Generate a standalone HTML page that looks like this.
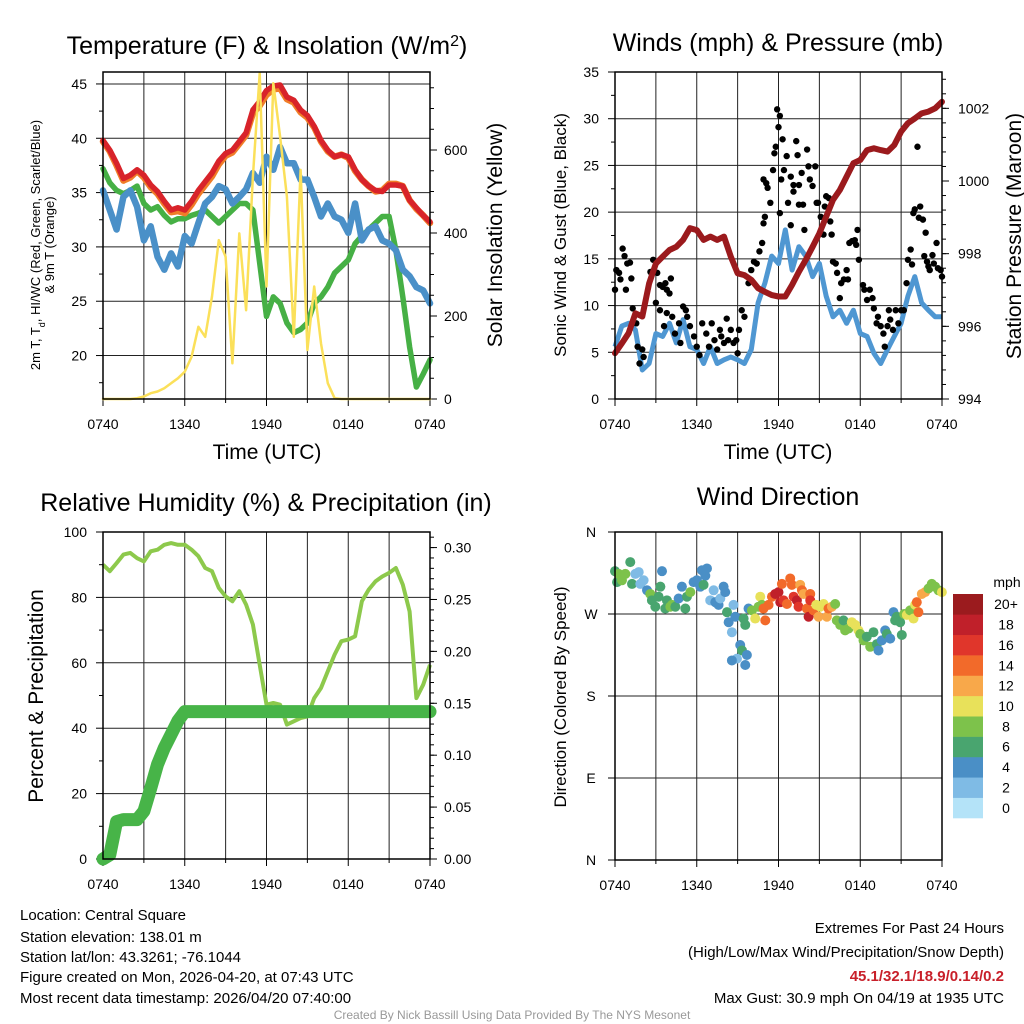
<!DOCTYPE html>
<html><head><meta charset="utf-8">
<style>
html,body{margin:0;padding:0;background:#fff;}
svg{display:block;font-family:"Liberation Sans",Arial,sans-serif;}
</style></head>
<body>
<svg id="chart" width="1024" height="1024" viewBox="0 0 1024 1024" xmlns="http://www.w3.org/2000/svg">
<rect width="1024" height="1024" fill="#fff"/>
<!-- titles -->
<text x="267" y="54" font-size="25" text-anchor="middle">Temperature (F) &amp; Insolation (W/m<tspan baseline-shift="super" font-size="16">2</tspan>)</text>
<text x="778" y="51" font-size="25" text-anchor="middle">Winds (mph) &amp; Pressure (mb)</text>
<text x="266" y="511" font-size="25" text-anchor="middle">Relative Humidity (%) &amp; Precipitation (in)</text>
<text x="778" y="505" font-size="25" text-anchor="middle">Wind Direction</text>
<!-- axis titles -->
<text x="267" y="459" font-size="21" text-anchor="middle">Time (UTC)</text>
<text x="778" y="459" font-size="21" text-anchor="middle">Time (UTC)</text>
<text transform="translate(40,245) rotate(-90)" font-size="13" text-anchor="middle">2m T, T<tspan baseline-shift="sub" font-size="9">d</tspan>, HI/WC (Red, Green, Scarlet/Blue)</text>
<text transform="translate(54,245) rotate(-90)" font-size="13" text-anchor="middle">&amp; 9m T (Orange)</text>
<text transform="translate(502,235) rotate(-90)" font-size="21" text-anchor="middle">Solar Insolation (Yellow)</text>
<text transform="translate(566,235) rotate(-90)" font-size="17" text-anchor="middle">Sonic Wind &amp; Gust (Blue, Black)</text>
<text transform="translate(1021,236) rotate(-90)" font-size="21" text-anchor="middle">Station Pressure (Maroon)</text>
<text transform="translate(43,696) rotate(-90)" font-size="21" text-anchor="middle">Percent &amp; Precipitation</text>
<text transform="translate(566,697) rotate(-90)" font-size="17" text-anchor="middle">Direction (Colored By Speed)</text>
<!-- footer -->
<g font-size="15">
<text x="20" y="920">Location: Central Square</text>
<text x="20" y="942">Station elevation: 138.01 m</text>
<text x="20" y="962">Station lat/lon: 43.3261; -76.1044</text>
<text x="20" y="982">Figure created on Mon, 2026-04-20, at 07:43 UTC</text>
<text x="20" y="1003">Most recent data timestamp: 2026/04/20 07:40:00</text>
</g>
<g font-size="15" text-anchor="end">
<text x="1004" y="933">Extremes For Past 24 Hours</text>
<text x="1004" y="957">(High/Low/Max Wind/Precipitation/Snow Depth)</text>
<text x="1004" y="981" fill="#c8202a" font-weight="bold">45.1/32.1/18.9/0.14/0.2</text>
<text x="1004" y="1003">Max Gust: 30.9 mph On 04/19 at 1935 UTC</text>
</g>
<text x="512" y="1019" font-size="12" fill="#999" text-anchor="middle">Created By Nick Bassill Using Data Provided By The NYS Mesonet</text>
<g id="plots"></g>
</svg>
<script>
// ---------- DATA ----------
const times = [0,0.5,1,1.5,2,2.5,3,3.5,4,4.5,5,5.5,6,6.5,7,7.5,8,8.5,9,9.5,10,10.5,11,11.5,12,12.5,13,13.5,14,14.5,15,15.5,16,16.5,17,17.5,18,18.5,19,19.5,20,20.5,21,21.5,22,22.5,23,23.5,24];
const xTickLabels = ["0740","1340","1940","0140","0740"];
const tempRed = [39.8,38.9,37.7,36.3,36.6,37.1,36.6,35.7,35.1,34.2,33.4,33.6,33.4,34.2,35.2,36.0,36.8,37.9,38.6,38.9,39.7,40.5,42.6,43.4,44.4,44.8,44.9,43.8,43.5,42.6,42.1,41.1,39.8,38.9,38.3,38.5,38.3,37.1,36.2,35.6,35.2,35.1,35.7,35.7,35.6,34.3,33.6,32.9,32.3];
const temp9m = [39.7,38.8,37.5,36.1,36.4,37.0,36.4,35.5,34.9,34.0,33.2,33.3,33.1,33.9,34.9,35.7,36.5,37.6,38.4,38.7,39.5,40.3,42.3,43.0,44.0,44.5,44.6,43.6,43.3,42.4,41.9,41.0,39.7,38.8,38.3,38.5,38.2,37.0,36.2,35.6,35.1,35.2,35.8,35.8,35.6,34.3,33.5,32.9,32.2];
const tempBlue = [35.2,33.4,31.6,34.6,35.2,33.7,30.6,31.9,29.1,27.9,29.4,28.2,31.0,30.3,32.2,34.0,34.6,35.6,35.3,34.0,34.6,35.3,36.8,35.9,38.3,37.1,39.2,37.7,37.7,36.2,36.2,34.6,32.8,34.0,32.8,32.5,31.3,34.0,30.6,31.6,31.9,30.6,30.3,29.7,27.9,27.3,26.3,26.0,24.8];
const tempGreen = [37.2,35.9,35.2,34.9,35.2,35.6,34.0,33.4,33.7,32.9,32.3,32.6,32.6,32.9,33.1,33.4,32.8,32.2,32.8,33.4,34.0,34.0,33.4,28.5,23.6,25.4,24.8,23.0,22.1,22.4,23.0,24.8,25.4,26.3,27.6,28.2,28.8,30.3,31.0,31.6,32.2,32.8,32.8,29.7,25.4,20.8,17.1,18.3,19.6];
const insolation = [0,0,0,0,0,2,6,14,18,26,38,50,66,102,174,150,247,383,343,86,399,214,536,785,271,761,632,488,150,552,118,271,134,38,2,0,0,0,0,0,0,0,0,0,0,0,0,0,0];
const tempTicks = [20,25,30,35,40,45];
const insTicks = [0,200,400,600];

const pressure = [995.26,995.53,995.81,996.36,996.27,997.18,997.73,997.92,998.10,998.19,998.38,998.70,998.65,998.38,998.47,998.38,998.47,997.92,997.46,997.41,997.28,997.05,996.95,996.86,996.82,996.82,997.14,997.50,997.83,998.19,998.56,999.02,999.48,999.75,1000.12,1000.49,1000.58,1000.85,1000.90,1000.85,1000.81,1000.99,1001.36,1001.59,1001.72,1001.86,1001.91,1002.00,1002.18];
const sonicWind = [5.6,7.8,8.1,7.4,3.1,3.8,7.0,6.7,8.1,6.0,8.5,5.6,5.3,3.8,5.6,3.8,4.2,4.5,4.2,3.8,5.3,10.3,12.4,15.3,14.5,18.1,13.8,16.3,15.3,13.1,14.5,11.0,8.8,9.5,8.1,9.5,7.0,6.7,4.9,3.8,5.3,6.7,8.1,11.0,13.1,10.3,9.5,8.8,8.8];
const gustTimes = [0,0.1,0.3,0.4,0.56,0.7,0.9,1.1,1.2,0.8,1.3,1.56,1.66,1.8,2.0,2.1,2.6,2.8,3.0,3.1,3.3,3.3,3.5,3.7,3.8,4.0,4.1,3.8,3.6,4.2,4.4,4.7,4.8,5.0,5.2,5.3,5.5,5.8,6.0,6.2,6.4,6.7,6.9,7.1,7.3,7.5,7.7,7.8,8.0,8.2,8.3,8.5,8.7,8.9,9.0,9.1,9.3,9.5,9.8,10.0,10.2,10.4,10.6,10.8,10.9,11.0,10.9,11.1,11.2,11.4,11.6,11.7,11.8,11.9,12.0,12.1,12.1,12.2,12.3,12.4,12.6,12.7,12.9,12.9,13.1,13.1,13.3,13.4,13.5,13.5,13.7,13.8,13.9,14.1,14.2,14.3,14.5,14.7,14.8,14.9,15.1,15.3,15.4,15.5,15.7,15.8,15.9,16.0,16.2,16.3,16.5,16.6,16.8,17.0,17.1,17.2,17.4,17.6,17.7,17.8,17.9,18.2,18.3,18.5,18.7,18.9,19.0,19.2,19.3,19.5,19.7,19.8,20.0,20.1,20.2,20.4,20.6,20.8,21.0,21.2,21.4,21.5,21.7,21.8,21.9,22.0,22.2,22.3,22.4,22.6,22.7,22.8,22.9,23.0,23.1,23.3,23.4,23.6,23.7,23.9,24.0];
const gustVals = [11.7,13.8,13.5,12.8,16.1,15.3,14.5,14.6,12.9,11.7,9.7,8.1,5.6,3.8,5.3,4.5,13.6,14.9,10.3,13.5,12.2,9.5,12.0,12.4,11.7,11.3,12.9,9.2,7.8,8.8,7.0,8.1,6.0,9.9,9.5,8.8,7.8,6.7,5.6,4.7,8.1,7.0,5.6,8.1,6.3,5.3,7.4,6.7,6.0,8.6,6.3,7.4,6.0,6.3,4.9,7.4,9.5,8.8,12.4,13.8,14.7,14.5,15.8,16.7,18.8,19.5,23.5,23.1,22.6,21.0,24.5,26.3,27.0,31.0,29.1,30.3,19.9,23.5,27.8,24.5,26.0,21.0,18.6,23.8,22.9,22.2,27.6,26.1,20.8,22.9,24.2,20.8,18.1,26.7,24.9,23.5,22.8,24.9,21.0,21.0,19.5,17.6,20.6,21.7,21.5,19.0,17.6,14.7,14.5,13.5,10.8,12.4,12.8,13.8,12.8,16.7,16.9,17.0,16.5,18.1,14.9,12.2,11.7,10.6,11.7,10.8,9.7,8.1,8.8,7.8,7.0,5.6,7.8,9.5,8.5,7.4,9.5,8.1,9.5,9.5,12.4,14.9,16.0,14.4,19.9,20.3,27.0,19.4,20.6,19.2,15.3,17.8,14.7,14.2,13.8,15.4,14.5,16.7,14.0,13.8,13.1];
const windTicks = [0,5,10,15,20,25,30,35];
const pressTicks = [994,996,998,1000,1002];

const humidity = [90.0,88.0,90.5,93.1,93.6,92.0,91.0,94.1,94.6,96.1,96.6,96.1,96.1,94.6,92.6,89.0,88.0,82.9,80.3,78.8,81.9,77.8,71.7,59.4,47.2,47.7,47.2,41.1,42.1,43.1,43.6,49.2,52.3,57.4,62.5,66.6,67.1,68.1,78.8,82.4,84.9,86.4,87.5,89.0,83.9,75.7,49.2,53.3,59.4];
const precip = [0,0.004,0.036,0.038,0.038,0.038,0.046,0.068,0.091,0.107,0.12,0.133,0.142,0.142,0.142,0.142,0.142,0.142,0.142,0.142,0.142,0.142,0.142,0.142,0.142,0.142,0.142,0.142,0.142,0.142,0.142,0.142,0.142,0.142,0.142,0.142,0.142,0.142,0.142,0.142,0.142,0.142,0.142,0.142,0.142,0.142,0.142,0.142,0.142];
const rhTicks = [0,20,40,60,80,100];
const precipTicks = ["0.00","0.05","0.10","0.15","0.20","0.25","0.30"];

const dirTimes = [0.00,0.15,0.27,0.51,0.76,1.12,1.25,1.49,1.74,1.86,2.10,2.35,2.59,2.71,2.96,3.20,3.33,3.45,3.69,3.81,4.06,4.18,4.43,4.67,4.91,5.16,5.28,5.53,5.77,6.01,6.26,6.38,6.63,6.75,6.50,6.99,7.24,7.36,7.60,7.73,7.97,8.09,8.22,8.34,8.58,8.70,8.83,9.19,9.32,8.95,8.58,9.68,9.56,9.44,9.56,9.80,10.05,10.29,10.54,10.66,10.78,10.90,11.03,11.27,11.52,11.76,12.00,12.13,12.25,12.37,12.62,12.86,12.98,13.11,13.35,13.47,13.59,13.72,13.84,14.08,14.21,14.33,14.33,14.57,14.77,14.94,15.06,15.31,15.55,15.67,15.92,16.16,16.28,16.53,16.77,16.89,17.14,17.38,17.63,17.87,18.00,18.24,18.48,18.73,18.97,19.22,19.34,19.58,19.83,19.95,20.20,20.44,20.56,20.68,20.93,21.05,21.22,21.42,21.66,21.91,22.03,22.15,22.27,22.52,22.76,23.01,23.25,23.50,23.74,23.99];
const dirVals = [317,305,314,307,314,327,303,314,316,303,307,296,292,285,278,289,300,317,276,285,278,280,278,287,300,276,289,294,305,307,300,318,312,320,302,285,296,283,280,287,300,294,272,261,250,280,267,236,230,221,219,225,214,265,258,276,274,265,278,289,280,276,263,280,289,292,294,283,303,285,281,309,302,289,285,278,302,296,292,276,267,292,285,274,280,267,278,281,267,276,278,281,263,258,263,252,254,261,258,252,248,241,245,234,250,237,230,241,252,248,243,272,263,267,261,247,270,269,274,265,280,283,272,292,294,298,303,300,296,294];
const dirSpeeds = [7,7,9,9,9,7,7,3,3,3,3,5,9,7,7,7,7,5,7,7,9,9,7,5,5,7,7,9,5,5,5,5,5,5,7,3,3,5,5,3,5,5,7,5,3,3,5,5,7,3,5,5,5,7,7,5,9,11,9,11,9,15,15,15,15,19,19,19,15,17,15,15,15,17,19,17,13,15,13,15,19,15,17,15,11,13,11,11,13,15,13,9,9,9,7,9,9,11,11,11,9,9,7,9,7,7,5,5,5,7,5,5,7,7,7,7,9,11,9,11,11,15,15,13,13,9,9,9,9,11];
const dirTickLabels = ["N","E","S","W","N"];
const speedBinLabels = ["0","2","4","6","8","10","12","14","16","18","20+"];
const speedColors = ["#b4e3f8","#7fbbe5","#4a8fc6","#49a56f","#7dc24b","#e8e15a","#f8a84a","#f26a2a","#e0362b","#c0202a","#9b1b1e"];

// ---------- HELPERS ----------
const NS = "http://www.w3.org/2000/svg";
const root = document.getElementById("plots");
function mk(tag, attrs, parent) {
  const e = document.createElementNS(NS, tag);
  for (const k in attrs) e.setAttribute(k, attrs[k]);
  (parent || root).appendChild(e);
  return e;
}
function txt(s, attrs, parent) { const e = mk("text", attrs, parent); e.textContent = s; return e; }
function linearScale(d0, d1, r0, r1) { return v => r0 + (v - d0) / (d1 - d0) * (r1 - r0); }
function pathFrom(xs, ys, xf, yf) {
  return xs.map((t, i) => (i ? "L" : "M") + xf(t).toFixed(1) + "," + yf(ys[i]).toFixed(1)).join("");
}

function frame(p, name) {
  const g = mk("g", {});
  
  
  for (let h = 3; h < 24; h += 3) {
    const x = p.x(h);
    const l = mk("line", {x1: x, x2: x, y1: p.y0, y2: p.y1, stroke: "#222", "stroke-width": 1}, g);
    
    
  }
  for (let h = 0; h <= 24; h += 3) {
    const x = p.x(h);
    mk("line", {x1: x, x2: x, y1: p.y1, y2: p.y1 + (h % 6 === 0 ? 7 : 4), stroke: "#000", "stroke-width": 1}, g);
  }
  xTickLabels.forEach((s, i) => {
    const t = txt(s, {x: p.x(i * 6), y: p.y1 + 30, "font-size": 14, "text-anchor": "middle"}, g);
    
    
  });
  return g;
}
function box(p, g) {
  const r = mk("rect", {x: p.x0, y: p.y0, width: p.x1 - p.x0, height: p.y1 - p.y0, fill: "none", stroke: "#000", "stroke-width": 1.5}, g);
  
  
}

// ---------- PANEL 1 ----------
(function () {
  const p = {x0: 103, x1: 430, y0: 72, y1: 399};
  p.x = linearScale(0, 24, p.x0, p.x1);
  const yT = linearScale(16, 46.1, p.y1, p.y0);
  const yI = linearScale(0, 788, p.y1, p.y0);
  const g = frame(p, "temperature");
  tempTicks.forEach(v => {
    const y = yT(v);
    if (y > p.y0 + 2 && y < p.y1 - 2) mk("line", {x1: p.x0, x2: p.x1, y1: y, y2: y, stroke: "#222", "stroke-width": 1}, g);
    mk("line", {x1: p.x0 - 7, x2: p.x0, y1: y, y2: y, stroke: "#000"}, g);
    const t = txt(String(v), {x: p.x0 - 16, y: y + 5, "font-size": 14, "text-anchor": "end"}, g);
    
    
  });
  for (let v = 17.5; v < 46; v += 5) { const y = yT(v); mk("line", {x1: p.x0 - 4, x2: p.x0, y1: y, y2: y, stroke: "#000"}, g); }
  insTicks.forEach(v => {
    const y = yI(v);
    mk("line", {x1: p.x1, x2: p.x1 + 7, y1: y, y2: y, stroke: "#000"}, g);
    const t = txt(String(v), {x: p.x1 + 14, y: y + 5, "font-size": 14}, g);
    
    
  });
  for (let v = 50; v < 788; v += 50) { if (v % 200) { const y = yI(v); mk("line", {x1: p.x1, x2: p.x1 + 4, y1: y, y2: y, stroke: "#000"}, g); } }
  const series = [
    ["green-heat-index-line", tempGreen, "#46b045", yT, 5.5],
    ["blue-dewpoint-line", tempBlue, "#4a90c8", yT, 6.5],
    ["orange-9m-temp-line", temp9m, "#f07d28", yT, 6.5],
    ["red-2m-temp-line", tempRed, "#d8232a", yT, 5.5],
    ["yellow-insolation-line", insolation, "#fbe05a", yI, 2.5]
  ];
  series.forEach(s => {
    const path = mk("path", {d: pathFrom(times, s[1], p.x, s[3]), fill: "none", stroke: s[2], "stroke-width": s[4], "stroke-linejoin": "round", "stroke-linecap": "round"}, g);
    
    
  });
  box(p, g);
})();

// ---------- PANEL 2 ----------
(function () {
  const p = {x0: 615, x1: 942, y0: 72, y1: 399};
  p.x = linearScale(0, 24, p.x0, p.x1);
  const yW = linearScale(0, 35, p.y1, p.y0);
  const yP = linearScale(994, 1003, p.y1, p.y0);
  const g = frame(p, "wind");
  windTicks.forEach(v => {
    const y = yW(v);
    if (y > p.y0 + 2 && y < p.y1 - 2) mk("line", {x1: p.x0, x2: p.x1, y1: y, y2: y, stroke: "#222", "stroke-width": 1}, g);
    mk("line", {x1: p.x0 - 7, x2: p.x0, y1: y, y2: y, stroke: "#000"}, g);
    const t = txt(String(v), {x: p.x0 - 16, y: y + 5, "font-size": 14, "text-anchor": "end"}, g);
    
    
  });
  for (let v = 2.5; v < 35; v += 5) { const y = yW(v); mk("line", {x1: p.x0 - 4, x2: p.x0, y1: y, y2: y, stroke: "#000"}, g); }
  pressTicks.forEach(v => {
    const y = yP(v);
    mk("line", {x1: p.x1, x2: p.x1 + 7, y1: y, y2: y, stroke: "#000"}, g);
    const t = txt(String(v), {x: p.x1 + 16, y: y + 5, "font-size": 14}, g);
    
    
  });
  for (let v = 994.4; v < 1003; v += 0.4) { const y = yP(v); mk("line", {x1: p.x1, x2: p.x1 + 4, y1: y, y2: y, stroke: "#000"}, g); }
  const sw = mk("path", {d: pathFrom(times, sonicWind, p.x, yW), fill: "none", stroke: "#4f97d2", "stroke-width": 5, "stroke-linejoin": "round"}, g);
  
  
  const gg = mk("g", {}, g);
  
  
  gustTimes.forEach((t, i) => {
    const c = mk("circle", {cx: p.x(t), cy: yW(gustVals[i]), r: 3.2, fill: "#000"}, gg);
    
    
  });
  const pr = mk("path", {d: pathFrom(times, pressure, p.x, yP), fill: "none", stroke: "#9b1a1d", "stroke-width": 6, "stroke-linejoin": "round", "stroke-linecap": "round"}, g);
  
  
  box(p, g);
})();

// ---------- PANEL 3 ----------
(function () {
  const p = {x0: 103, x1: 430, y0: 532, y1: 859};
  p.x = linearScale(0, 24, p.x0, p.x1);
  const yR = linearScale(0, 100, p.y1, p.y0);
  const yPr = linearScale(0, 0.315, p.y1, p.y0);
  const g = frame(p, "humidity");
  rhTicks.forEach(v => {
    const y = yR(v);
    if (y > p.y0 + 2 && y < p.y1 - 2) mk("line", {x1: p.x0, x2: p.x1, y1: y, y2: y, stroke: "#222", "stroke-width": 1}, g);
    mk("line", {x1: p.x0 - 7, x2: p.x0, y1: y, y2: y, stroke: "#000"}, g);
    const t = txt(String(v), {x: p.x0 - 16, y: y + 5, "font-size": 14, "text-anchor": "end"}, g);
    
    
  });
  for (let v = 10; v < 100; v += 20) { const y = yR(v); mk("line", {x1: p.x0 - 4, x2: p.x0, y1: y, y2: y, stroke: "#000"}, g); }
  precipTicks.forEach(s => {
    const y = yPr(parseFloat(s));
    mk("line", {x1: p.x1, x2: p.x1 + 7, y1: y, y2: y, stroke: "#000"}, g);
    const t = txt(s, {x: p.x1 + 14, y: y + 5, "font-size": 14}, g);
    
    
  });
  for (let v = 0.01; v < 0.315; v += 0.01) { const y = yPr(v); mk("line", {x1: p.x1, x2: p.x1 + 4, y1: y, y2: y, stroke: "#000"}, g); }
  const rh = mk("path", {d: pathFrom(times, humidity, p.x, yR), fill: "none", stroke: "#8dc94c", "stroke-width": 4, "stroke-linejoin": "round"}, g);
  
  
  const pc = mk("path", {d: pathFrom(times, precip, p.x, yPr), fill: "none", stroke: "#47b448", "stroke-width": 13, "stroke-linejoin": "round", "stroke-linecap": "round"}, g);
  
  
  box(p, g);
})();

// ---------- PANEL 4 ----------
(function () {
  const p = {x0: 615, x1: 942, y0: 532, y1: 860};
  p.x = linearScale(0, 24, p.x0, p.x1);
  const yD = linearScale(0, 360, p.y1, p.y0);
  const g = frame(p, "direction");
  dirTickLabels.forEach((s, i) => {
    const y = yD(i * 90);
    if (i > 0 && i < 4) mk("line", {x1: p.x0, x2: p.x1, y1: y, y2: y, stroke: "#222", "stroke-width": 1}, g);
    mk("line", {x1: p.x0 - 7, x2: p.x0, y1: y, y2: y, stroke: "#000"}, g);
    const t = txt(s, {x: p.x0 - 24, y: y + 5, "font-size": 14, "text-anchor": "middle"}, g);
    
    
  });
  const dg = mk("g", {}, g);
  
  
  dirTimes.forEach((t, i) => {
    const bin = Math.min(10, Math.floor(dirSpeeds[i] / 2));
    const c = mk("circle", {cx: p.x(t), cy: yD(dirVals[i]), r: 5, fill: speedColors[bin]}, dg);
    
    
  });
  box(p, g);
  const cb = mk("g", {});
  
  
  const cbTop = 594, cbBot = 818, cbH = (cbBot - cbTop) / speedBinLabels.length;
  speedBinLabels.forEach((s, i) => {
    const y = cbBot - (i + 1) * cbH;
    const r = mk("rect", {x: 953, y: y, width: 30, height: cbH + 0.3, fill: speedColors[i]}, cb);
    
    
    const t = txt(s, {x: 1006, y: y + cbH / 2 + 5, "font-size": 14, "text-anchor": "middle"}, cb);
    
    
  });
  const u = txt("mph", {x: 1007, y: 587, "font-size": 14, "text-anchor": "middle"}, cb);
  
  
})();
</script>
</body></html>
